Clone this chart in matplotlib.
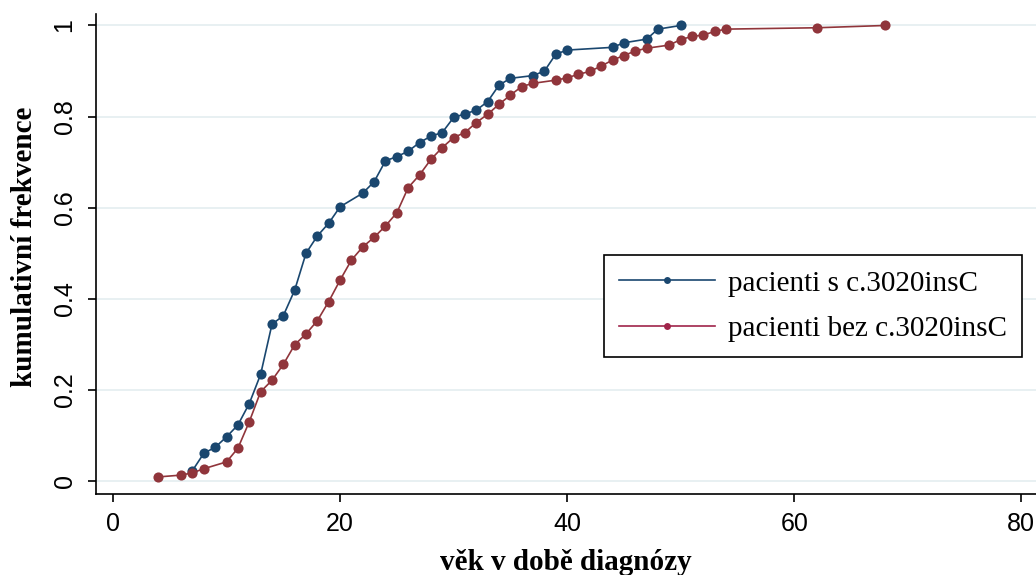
import matplotlib
matplotlib.use("Agg")
import matplotlib.pyplot as plt
from matplotlib.lines import Line2D

# Data: age at diagnosis vs. cumulative frequency
age_with = [7, 8, 9, 10, 11, 12, 13, 14, 15, 16, 17, 18, 19, 20, 22, 23, 24, 25, 26,
            27, 28, 29, 30, 31, 32, 33, 34, 35, 37, 38, 39, 40, 44, 45, 47, 48, 50]
cum_with = [0.023, 0.061, 0.074, 0.097, 0.123, 0.170, 0.234, 0.344, 0.363, 0.419,
            0.500, 0.538, 0.566, 0.602, 0.632, 0.657, 0.703, 0.712, 0.724, 0.743,
            0.757, 0.765, 0.798, 0.806, 0.814, 0.833, 0.869, 0.884, 0.890, 0.900,
            0.937, 0.946, 0.952, 0.962, 0.970, 0.992, 1.000]

age_without = [4, 6, 7, 8, 10, 11, 12, 13, 14, 15, 16, 17, 18, 19, 20, 21, 22, 23, 24,
               25, 26, 27, 28, 29, 30, 31, 32, 33, 34, 35, 36, 37, 39, 40, 41, 42, 43,
               44, 45, 46, 47, 49, 50, 51, 52, 53, 54, 62, 68]
cum_without = [0.009, 0.013, 0.018, 0.027, 0.042, 0.072, 0.130, 0.196, 0.221, 0.256,
               0.299, 0.323, 0.352, 0.394, 0.441, 0.485, 0.514, 0.535, 0.560, 0.589,
               0.644, 0.672, 0.706, 0.732, 0.754, 0.765, 0.787, 0.805, 0.827, 0.847,
               0.866, 0.873, 0.880, 0.885, 0.893, 0.899, 0.911, 0.924, 0.934, 0.944,
               0.950, 0.957, 0.969, 0.976, 0.979, 0.987, 0.992, 0.995, 1.000]

labels = ["pacienti s c.3020insC", "pacienti bez c.3020insC"]
x_ticks = [0, 20, 40, 60, 80]
y_ticks = [0, 0.2, 0.4, 0.6, 0.8, 1]
y_tick_labels = ["0", "0.2", "0.4", "0.6", "0.8", "1"]
x_label = "věk v době diagnózy"
y_label = "kumulativní frekvence"

blue = "#1a476f"
red = "#90353b"

W, H = 1036, 575
fig = plt.figure(figsize=(W / 100, H / 100), dpi=100)
fig.patch.set_facecolor("white")
ax = fig.add_axes([96 / W, 1 - 494 / H, (W - 96) / W, (494 - 14) / H])

ax.plot(age_with, cum_with, color=blue, lw=1.2, marker="o", ms=7.3,
        markeredgewidth=0, zorder=3)
ax.plot(age_without, cum_without, color=red, lw=1.2, marker="o", ms=7.3,
        markeredgewidth=0, zorder=3)

ax.set_xlim(-1.5, 81.3)
ax.set_ylim(-0.0285, 1.0252)

for s in ["top", "right"]:
    ax.spines[s].set_visible(False)
for s in ["left", "bottom"]:
    ax.spines[s].set_linewidth(1.2)
    ax.spines[s].set_color("black")

tick_font = ["Liberation Sans Narrow", "Liberation Sans", "DejaVu Sans"]
ax.set_xticks(x_ticks)
ax.set_xticklabels([str(v) for v in x_ticks], family=tick_font, fontsize=18)
ax.set_yticks(y_ticks)
ax.set_yticklabels(y_tick_labels, family=tick_font, fontsize=18,
                   rotation=90, va="center")
ax.tick_params(axis="both", length=6, width=1.2, color="black")
ax.tick_params(axis="x", pad=7)
ax.tick_params(axis="y", pad=8)

ax.yaxis.grid(True, color="#e6eff1", lw=1.3)
ax.set_axisbelow(True)

serif = ["Liberation Serif", "DejaVu Serif"]
ax.set_xlabel(x_label, family=serif, fontsize=21, fontweight="bold")
ax.xaxis.set_label_coords(0.5, -(562 - 494) / (494 - 14))
ax.xaxis.label.set_va("center")
ax.set_ylabel(y_label, family=serif, fontsize=21, fontweight="bold")
ax.yaxis.set_label_coords((25 - 96) / (W - 96), 1 - (247 - 14) / (494 - 14))
ax.yaxis.label.set_va("center")

handles = [
    Line2D([], [], color=blue, lw=1.2, marker="o", ms=5, markeredgewidth=0),
    Line2D([], [], color="#a0244a", lw=1.2, marker="o", ms=5, markeredgewidth=0),
]
leg = fig.legend(handles, labels, loc="upper left",
                 bbox_to_anchor=(604 / W, 1 - 255 / H), borderaxespad=0,
                 prop={"family": serif, "size": 21}, frameon=True,
                 fancybox=False, framealpha=1, edgecolor="black",
                 handlelength=3.3, handletextpad=0.42, labelspacing=0.66,
                 borderpad=0.52)
leg.get_frame().set_linewidth(1.2)

fig.savefig("out.png", dpi=100, facecolor="white")
